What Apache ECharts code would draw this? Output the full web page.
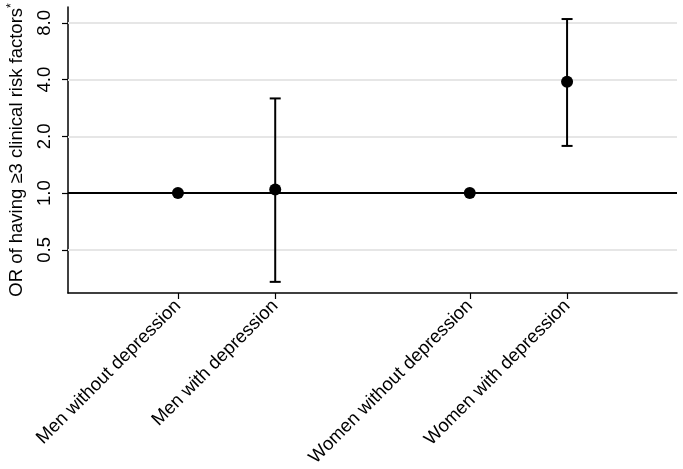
<!DOCTYPE html>
<html>
<head>
<meta charset="utf-8">
<script src="https://cdn.jsdelivr.net/npm/echarts@6/dist/echarts.min.js"></script>
<style>html,body{margin:0;padding:0;background:#fff;}#c{width:683px;height:469px;}</style>
</head>
<body>
<div id="c"></div>
<script>
const categories = ['Men without depression', 'Men with depression', 'Women without depression', 'Women with depression'];
const xPositions = [1, 2, 4, 5];
const orValues = [1.0, 1.046, 1.0, 3.90];
const ciLower = [null, 0.338, null, 1.78];
const ciUpper = [null, 3.18, null, 8.39];
const yTicks = [0.5, 1, 2, 4, 8];
const gridTicks = [0.5, 2, 4, 8];
const refValue = 1;

const FONT = 'Liberation Sans, Arial, sans-serif';
const FS = 18.5;
const chart = echarts.init(document.getElementById('c'), null, {renderer: 'canvas'});

const pointData = xPositions.map((x, i) => [x, orValues[i]]);
const errData = xPositions.map((x, i) => [x, ciLower[i], ciUpper[i]]).filter(d => d[1] != null);

chart.setOption({
  animation: false,
  grid: {left: 68, right: 6, top: 7, bottom: 176, containLabel: false, outerBoundsMode: 'none'},
  xAxis: {
    type: 'value', min: -0.13, max: 6.13,
    axisLine: {show: true, onZero: false, lineStyle: {color: '#000', width: 1.5}},
    axisTick: {show: true, length: 6, lineStyle: {color: '#000', width: 1.2}, customValues: xPositions},
    axisLabel: {
      customValues: xPositions, rotate: 45, margin: 10, color: '#000',
      fontFamily: FONT, fontSize: FS,
      formatter: v => categories[xPositions.indexOf(v)]
    },
    splitLine: {show: false}
  },
  yAxis: {
    type: 'log', logBase: 2, min: 0.295, max: 9.72,
    name: 'OR of having ≥3 clinical risk factors{s|*}',
    nameLocation: 'middle', nameRotate: 90, nameGap: 41, nameMoveOverlap: false,
    nameTextStyle: {color: '#000', fontFamily: FONT, fontSize: FS,
      rich: {s: {fontSize: 12, fontFamily: FONT, color: '#000', padding: [0, 0, 9, 0]}}},
    axisLine: {show: true, onZero: false, lineStyle: {color: '#000', width: 1.5}},
    axisTick: {show: true, length: 6, lineStyle: {color: '#000', width: 1.2}, customValues: yTicks},
    axisLabel: {
      customValues: yTicks,
      rotate: 90, margin: 14, color: '#000', fontFamily: FONT, fontSize: FS,
      formatter: v => Number(v).toFixed(1)
    },
    splitLine: {show: false}
  },
  series: [
    {
      type: 'scatter',
      data: [],
      zlevel: 0, z: 1,
      markLine: {
        silent: true, symbol: 'none', label: {show: false},
        lineStyle: {color: '#e6e6e6', width: 2, type: 'solid', opacity: 1},
        data: gridTicks.map(t => ({yAxis: t}))
      }
    },
    {
      type: 'custom',
      data: errData,
      zlevel: 1, z: 3,
      renderItem: function (params, api) {
        const x = api.value(0);
        const lo = api.coord([x, api.value(1)]);
        const hi = api.coord([x, api.value(2)]);
        const cw = 5.5;
        const st = {stroke: '#000', lineWidth: 2};
        return {type: 'group', children: [
          {type: 'line', shape: {x1: lo[0], y1: lo[1], x2: hi[0], y2: hi[1]}, style: st},
          {type: 'line', shape: {x1: lo[0] - cw, y1: lo[1], x2: lo[0] + cw, y2: lo[1]}, style: st},
          {type: 'line', shape: {x1: hi[0] - cw, y1: hi[1], x2: hi[0] + cw, y2: hi[1]}, style: st}
        ]};
      }
    },
    {
      type: 'scatter',
      data: pointData,
      symbol: 'circle', symbolSize: 12,
      itemStyle: {color: '#000', opacity: 1},
      zlevel: 1, z: 4,
      markLine: {
        silent: true, symbol: 'none', label: {show: false},
        lineStyle: {color: '#000', width: 2, type: 'solid', opacity: 1},
        data: [{yAxis: refValue}]
      }
    }
  ]
});
</script>
</body>
</html>
